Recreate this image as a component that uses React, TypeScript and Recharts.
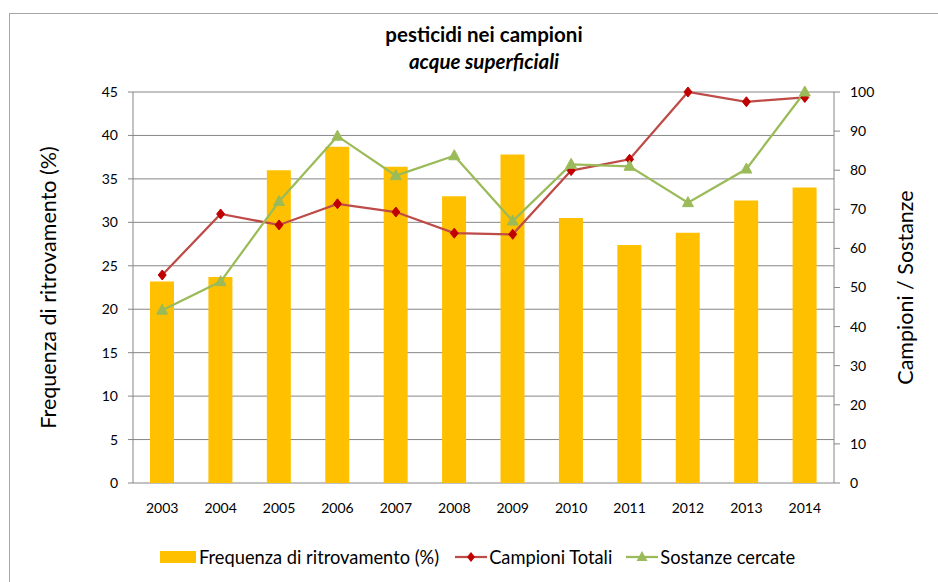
import { ComposedChart, Bar, Line, XAxis, YAxis, CartesianGrid } from 'recharts'

const YEARS = ['2003', '2004', '2005', '2006', '2007', '2008', '2009', '2010', '2011', '2012', '2013', '2014']
const FREQUENZA = [23.2, 23.7, 36.0, 38.7, 36.4, 33.0, 37.8, 30.5, 27.4, 28.8, 32.5, 34.0]
const CAMPIONI = [53.2, 68.8, 66.0, 71.4, 69.3, 63.9, 63.6, 79.9, 82.8, 100, 97.5, 98.6]
const SOSTANZE = [44.2, 51.5, 72.0, 88.7, 78.6, 83.7, 67.0, 81.5, 81.0, 71.7, 80.3, 100]
const LEFT_TICKS = [0, 5, 10, 15, 20, 25, 30, 35, 40, 45]
const RIGHT_TICKS = [0, 10, 20, 30, 40, 50, 60, 70, 80, 90, 100]
const EDGE_TICKS = [0, 1, 2, 3, 4, 5, 6, 7, 8, 9, 10, 11, 12]

const data = YEARS.map((year, i) => ({
  year,
  idx: i + 0.5,
  freq: FREQUENZA[i],
  camp: CAMPIONI[i],
  sost: SOSTANZE[i],
}))

const FONT = 'Lato, "DejaVu Sans", sans-serif'
const AXIS_GREY = '#868686'
const YELLOW = '#FFC000'
const RED_LINE = '#BE4B48'
const RED_DOT = '#C00000'
const GREEN = '#9BBB59'

const tickStyle = { fontSize: 14, fill: '#000', fontFamily: FONT }

const Diamond = (props: any) => {
  const { cx, cy } = props
  if (cx == null || cy == null) return null
  return <path d={`M${cx},${cy - 5} L${cx + 4},${cy} L${cx},${cy + 5} L${cx - 4},${cy} Z`} fill={RED_DOT} stroke={RED_DOT} />
}

const Triangle = (props: any) => {
  const { cx, cy } = props
  if (cx == null || cy == null) return null
  return <path d={`M${cx},${cy - 6} L${cx + 5.5},${cy + 4} L${cx - 5.5},${cy + 4} Z`} fill={GREEN} stroke={GREEN} />
}

export default function App() {
  return (
    <div style={{ position: 'absolute', left: 0, top: 0, width: 938, height: 582, background: '#fff', overflow: 'hidden', fontFamily: FONT }}>
      <div style={{ position: 'absolute', left: 9, top: 13, width: 960, height: 600, borderLeft: '1px solid #a6a6a6', borderTop: '1px solid #a6a6a6' }} />
      <div style={{ position: 'absolute', left: 0, width: 968, top: 21, textAlign: 'center', fontSize: 20.5, fontWeight: 700, lineHeight: '27px' }}>
        <div>pesticidi nei campioni</div>
        <div style={{ fontStyle: 'italic' }}>acque superficiali</div>
      </div>
      <ComposedChart
        width={938}
        height={582}
        data={data}
        margin={{ top: 92, right: 44, left: 73, bottom: 69 }}
        style={{ position: 'absolute', left: 0, top: 0 }}
      >
        <CartesianGrid yAxisId="l" vertical={false} stroke={AXIS_GREY} strokeWidth={1} />
        <XAxis
          xAxisId="edges"
          type="number"
          dataKey="idx"
          domain={[0, 12]}
          ticks={EDGE_TICKS}
          tick={false}
          tickSize={5}
          height={0}
          axisLine={{ stroke: AXIS_GREY }}
          tickLine={{ stroke: AXIS_GREY }}
        />
        <XAxis
          dataKey="year"
          tick={tickStyle}
          tickLine={false}
          axisLine={false}
          height={30}
          tickMargin={14}
          interval={0}
        />
        <YAxis
          yAxisId="l"
          domain={[0, 45]}
          ticks={LEFT_TICKS}
          tick={tickStyle}
          width={60}
          tickSize={5}
          tickMargin={10}
          axisLine={{ stroke: AXIS_GREY }}
          tickLine={{ stroke: AXIS_GREY }}
          interval={0}
          label={{ value: 'Frequenza di ritrovamento (%)', angle: -90, position: 'insideLeft', offset: -25, style: { fontSize: 21.5, fill: '#000', fontFamily: FONT, textAnchor: 'middle' } }}
        />
        <YAxis
          yAxisId="r"
          orientation="right"
          domain={[0, 100]}
          ticks={RIGHT_TICKS}
          tick={{ ...tickStyle, textAnchor: 'start' }}
          width={60}
          tickSize={6}
          tickMargin={10}
          axisLine={{ stroke: AXIS_GREY }}
          tickLine={{ stroke: AXIS_GREY }}
          interval={0}
          label={{ value: 'Campioni / Sostanze', angle: -90, position: 'insideRight', offset: -11, style: { fontSize: 21.5, fill: '#000', fontFamily: FONT, textAnchor: 'middle' } }}
        />
        <Bar yAxisId="l" dataKey="freq" name="Frequenza di ritrovamento (%)" fill={YELLOW} barSize={24} isAnimationActive={false} />
        <Line yAxisId="r" dataKey="camp" name="Campioni Totali" stroke={RED_LINE} strokeWidth={2.25} dot={<Diamond />} activeDot={false} isAnimationActive={false} />
        <Line yAxisId="r" dataKey="sost" name="Sostanze cercate" stroke={GREEN} strokeWidth={2.25} dot={<Triangle />} activeDot={false} isAnimationActive={false} />
      </ComposedChart>
      <div style={{ position: 'absolute', top: 546, left: 160, display: 'flex', alignItems: 'center', fontSize: 18.3, lineHeight: '22px', whiteSpace: 'nowrap' }}>
        <span style={{ width: 36, height: 12, background: YELLOW, display: 'inline-block', marginRight: 3 }} />
        <span>Frequenza di ritrovamento (%)</span>
        <svg width={32} height={14} style={{ marginLeft: 16, marginRight: 2 }}>
          <line x1={0} y1={7} x2={32} y2={7} stroke={RED_LINE} strokeWidth={2.25} />
          <path d="M16,2 L20,7 L16,12 L12,7 Z" fill={RED_DOT} />
        </svg>
        <span>Campioni Totali</span>
        <svg width={32} height={14} style={{ marginLeft: 14, marginRight: 2 }}>
          <line x1={0} y1={7} x2={32} y2={7} stroke={GREEN} strokeWidth={2.25} />
          <path d="M16,1 L21.5,11 L10.5,11 Z" fill={GREEN} />
        </svg>
        <span>Sostanze cercate</span>
      </div>
    </div>
  )
}
